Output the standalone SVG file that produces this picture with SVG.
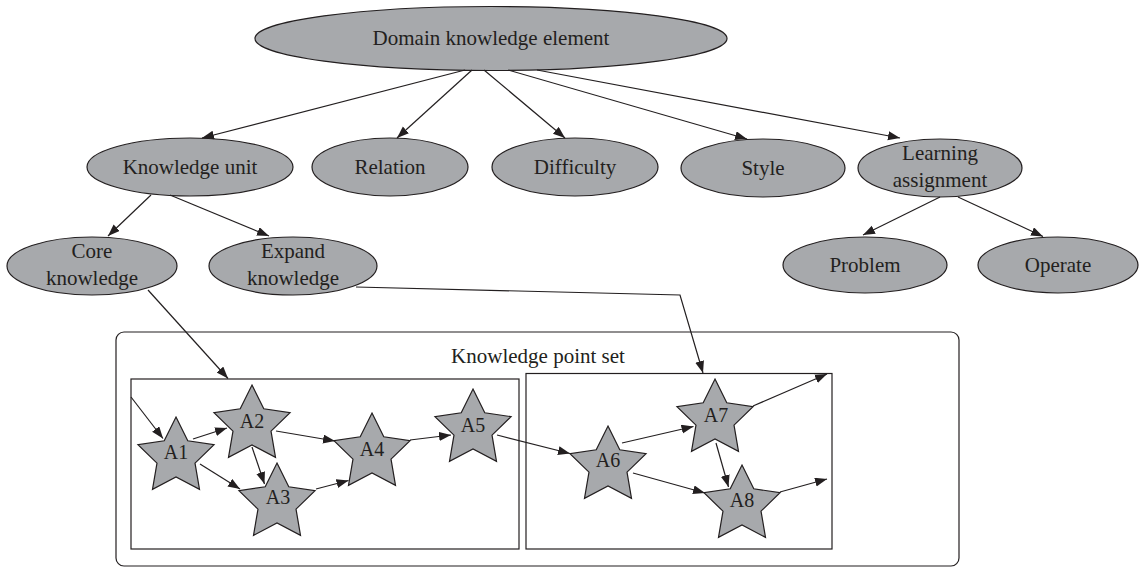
<svg xmlns="http://www.w3.org/2000/svg" width="1141" height="569" viewBox="0 0 1141 569">
<style>
.n{fill:#a7a9ac;stroke:#231f20;stroke-width:1.2}
.t{font-family:"Liberation Serif","Times New Roman",serif;font-size:21px;fill:#231f20;text-anchor:middle}
.s{font-size:20px}
.c{fill:none;stroke:#231f20;stroke-width:1.2;marker-end:url(#ah)}
.b{fill:none;stroke:#231f20;stroke-width:1.2}
</style>
<defs>
<marker id="ah" markerUnits="userSpaceOnUse" markerWidth="13" markerHeight="10" refX="12" refY="4.5" orient="auto">
<path d="M0,0 L12,4.5 L0,9 z" fill="#231f20"/>
</marker>
<polygon id="star" class="n" points="0,-40 11.76,-16.18 38.04,-12.36 19.02,6.18 23.51,32.36 0,20 -23.51,32.36 -19.02,6.18 -38.04,-12.36 -11.76,-16.18"/>
</defs>
<rect width="1141" height="569" fill="#fff"/>

<g id="containers">
<rect class="b" x="116" y="332" width="843" height="234" rx="8"/>
<text class="t" x="538" y="363">Knowledge point set</text>
<rect class="b" x="131" y="379" width="388" height="170"/>
<rect class="b" x="526" y="373.5" width="306" height="175.5"/>
</g>

<g id="n-domain"><ellipse class="n" cx="491" cy="38.5" rx="236" ry="32"/><text class="t" x="491" y="45">Domain knowledge element</text></g>
<g id="n-unit"><ellipse class="n" cx="190" cy="167" rx="103" ry="29"/><text class="t" x="190" y="174">Knowledge unit</text></g>
<g id="n-relation"><ellipse class="n" cx="390" cy="167" rx="78" ry="29"/><text class="t" x="390" y="174">Relation</text></g>
<g id="n-difficulty"><ellipse class="n" cx="575" cy="167" rx="83" ry="29"/><text class="t" x="575" y="174">Difficulty</text></g>
<g id="n-style"><ellipse class="n" cx="763" cy="168" rx="82" ry="29"/><text class="t" x="763" y="175">Style</text></g>
<g id="n-assignment"><ellipse class="n" cx="940" cy="168" rx="82" ry="29"/><text class="t" x="940" y="160">Learning</text><text class="t" x="940" y="187">assignment</text></g>
<g id="n-core"><ellipse class="n" cx="92" cy="266" rx="85" ry="29"/><text class="t" x="92" y="258">Core</text><text class="t" x="92" y="285">knowledge</text></g>
<g id="n-expand"><ellipse class="n" cx="293" cy="266" rx="84" ry="29"/><text class="t" x="293" y="258">Expand</text><text class="t" x="293" y="285">knowledge</text></g>
<g id="n-problem"><ellipse class="n" cx="865" cy="265" rx="82" ry="28"/><text class="t" x="865" y="272">Problem</text></g>
<g id="n-operate"><ellipse class="n" cx="1058" cy="265" rx="80" ry="28"/><text class="t" x="1058" y="272">Operate</text></g>

<g id="n-A1"><use href="#star" x="176" y="457"/><text class="t s" x="176" y="459">A1</text></g>
<g id="n-A2"><use href="#star" x="252" y="425"/><text class="t s" x="252" y="428">A2</text></g>
<g id="n-A3"><use href="#star" x="277" y="503"/><text class="t s" x="278" y="504">A3</text></g>
<g id="n-A4"><use href="#star" x="372" y="453"/><text class="t s" x="372" y="456">A4</text></g>
<g id="n-A5"><use href="#star" x="473" y="429"/><text class="t s" x="473" y="432">A5</text></g>
<g id="n-A6"><use href="#star" x="608" y="466"/><text class="t s" x="608" y="467">A6</text></g>
<g id="n-A7"><use href="#star" x="715" y="419"/><text class="t s" x="716" y="422">A7</text></g>
<g id="n-A8"><use href="#star" x="742" y="505"/><text class="t s" x="742" y="507">A8</text></g>

<g id="connectors">
<line class="c" x1="465" y1="70" x2="202" y2="138"/>
<line class="c" x1="472" y1="70" x2="397" y2="138"/>
<line class="c" x1="484" y1="70" x2="565" y2="138"/>
<line class="c" x1="508" y1="70" x2="747" y2="139"/>
<line class="c" x1="537" y1="70" x2="900" y2="138"/>
<line class="c" x1="151" y1="195" x2="108" y2="236"/>
<line class="c" x1="170" y1="195" x2="269" y2="236"/>
<line class="c" x1="940" y1="197" x2="863" y2="235"/>
<line class="c" x1="958" y1="197" x2="1043" y2="236.5"/>
<line class="c" x1="148" y1="290" x2="228" y2="378.5"/>
<polyline class="c" points="356,287 680,295 703,373"/>
<line class="c" x1="131" y1="397" x2="163" y2="438.5"/>
<line class="c" x1="193" y1="439" x2="227" y2="428"/>
<line class="c" x1="200" y1="464" x2="240" y2="489"/>
<line class="c" x1="252" y1="447" x2="264.5" y2="484"/>
<line class="c" x1="276" y1="431" x2="335" y2="441"/>
<line class="c" x1="316" y1="489" x2="348.5" y2="480.5"/>
<line class="c" x1="410" y1="440" x2="451" y2="435"/>
<line class="c" x1="497" y1="435" x2="570" y2="453.5"/>
<line class="c" x1="622" y1="443" x2="693.5" y2="426.5"/>
<line class="c" x1="633" y1="473" x2="705" y2="493"/>
<line class="c" x1="716" y1="443" x2="728.5" y2="487"/>
<line class="c" x1="753" y1="406" x2="827" y2="374"/>
<line class="c" x1="780" y1="492" x2="827" y2="479"/>
</g>
</svg>
